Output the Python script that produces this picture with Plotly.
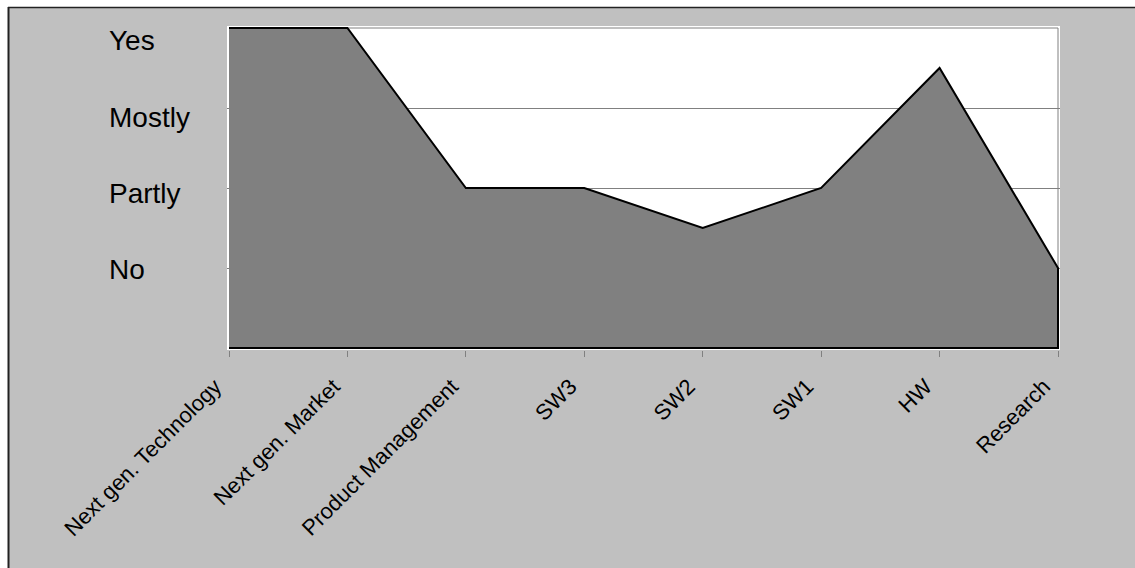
import plotly.graph_objects as go

# Assessment per department (0 = baseline, 1 = No ... 4 = Yes)
departments = ["Next gen. Technology", "Next gen. Market", "Product Management",
               "SW3", "SW2", "SW1", "HW", "Research"]
scores = [4, 4, 2, 2, 1.5, 2, 3.5, 1]

level_labels = ["Yes", "Mostly", "Partly", "No"]
level_values = [4, 3, 2, 1]
label_yshift = [-12, -9, -5, -1]   # pixel nudges for the level captions

W, H = 1135, 568
L, R, T, B = 227, 1060, 26, 350          # plot area in pixels
px_x = lambda p: (p - L) / (R - L)       # pixel -> paper coords
px_y = lambda p: (B - p) / (B - T)

FONT = "Arial, Liberation Sans, sans-serif"
n = len(departments)
xpad = 2 / ((R - L - 4) / (n - 1))
ypad = 2 / ((B - T - 4) / 4)

fig = go.Figure()

# closed area polygon: profile on top, baseline at 0
fig.add_trace(go.Scatter(
    x=departments + [departments[-1], departments[0]],
    y=scores + [0, 0],
    mode="lines",
    fill="toself",
    fillcolor="#808080",
    line=dict(color="black", width=2),
    hoverinfo="skip",
    showlegend=False,
))

shapes = [
    # grey frame of the plot area (top and right)
    dict(type="line", xref="x", yref="y", x0=0, x1=n - 1, y0=4, y1=4,
         line=dict(color="#808080", width=1), layer="below"),
    dict(type="line", xref="x", yref="y", x0=n - 1, x1=n - 1, y0=0, y1=4,
         line=dict(color="#808080", width=1), layer="below"),
    # white margin outside the chart frame
    dict(type="rect", xref="paper", yref="paper", x0=px_x(-5), x1=px_x(8),
         y0=px_y(H + 5), y1=px_y(-5), fillcolor="white", line=dict(width=0)),
    dict(type="rect", xref="paper", yref="paper", x0=px_x(-5), x1=px_x(W + 5),
         y0=px_y(7), y1=px_y(-5), fillcolor="white", line=dict(width=0)),
    # chart frame lines
    dict(type="line", xref="paper", yref="paper", x0=px_x(8.5), x1=px_x(8.5),
         y0=px_y(7), y1=px_y(H + 5), line=dict(color="#222222", width=2)),
    dict(type="line", xref="paper", yref="paper", x0=px_x(8), x1=px_x(W + 5),
         y0=px_y(7.5), y1=px_y(7.5), line=dict(color="#222222", width=1.5)),
]

annotations = [
    dict(text=t, xref="paper", yref="y", x=px_x(107), y=v, yshift=s,
         xanchor="left", yanchor="middle", showarrow=False,
         font=dict(family=FONT, size=28, color="black"))
    for t, v, s in zip(level_labels, level_values, label_yshift)
]

fig.update_layout(
    width=W, height=H,
    margin=dict(l=L, r=W - R, t=T, b=H - B, pad=0),
    paper_bgcolor="#C0C0C0",
    plot_bgcolor="white",
    showlegend=False,
    shapes=shapes,
    annotations=annotations,
    xaxis=dict(
        type="category",
        categoryorder="array", categoryarray=departments,
        range=[-xpad, n - 1 + xpad],
        showgrid=False, zeroline=False, showline=False,
        ticks="outside", ticklen=6, tickwidth=1, tickcolor="#808080",
        tickangle=-45,
        ticklabelshift=-14, ticklabelstandoff=8,
        tickfont=dict(family=FONT, size=22, color="black"),
        fixedrange=True,
    ),
    yaxis=dict(
        range=[-ypad, 4 + ypad],
        tickvals=[1, 2, 3],
        showticklabels=False,
        showgrid=True, gridcolor="#808080", gridwidth=1,
        zeroline=False, showline=False, ticks="",
        fixedrange=True,
    ),
)

fig.write_html("out.html", config={"displayModeBar": False})
